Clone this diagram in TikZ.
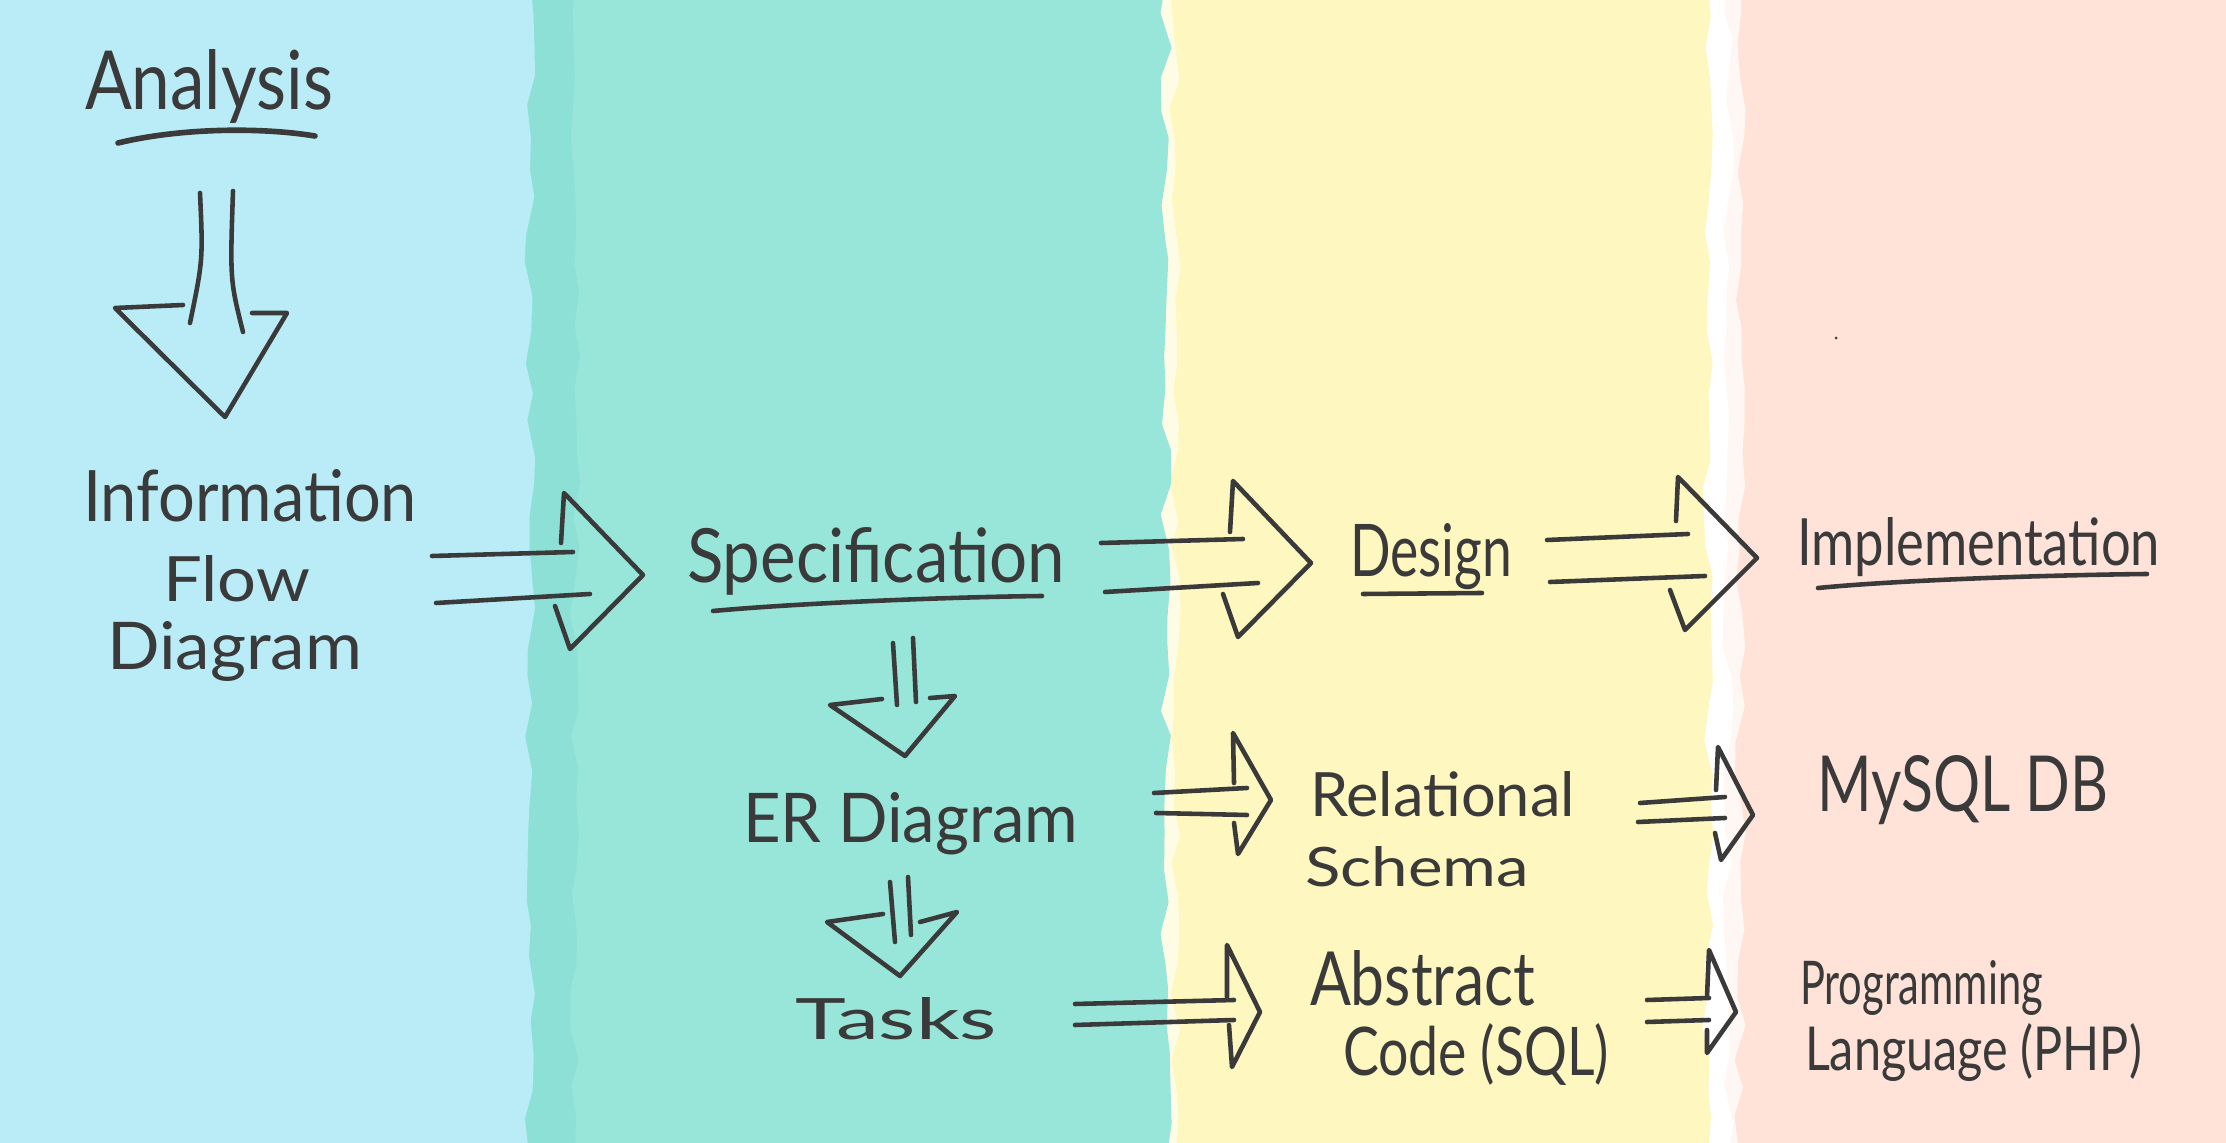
\documentclass[tikz,border=0pt]{standalone}
\usepackage{fontspec}
\setmainfont{Lato}
\usepackage{graphicx}
\usetikzlibrary{decorations.pathmorphing}
\definecolor{ink}{HTML}{3A3A3A}
\definecolor{bluec}{HTML}{BAECF8}
\definecolor{tealdark}{HTML}{8DE0D6}
\definecolor{tealc}{HTML}{98E5DA}
\definecolor{yellowc}{HTML}{FFF7C0}
\definecolor{pinkc}{HTML}{FFE3D8}
\newdimen\pxu \pxu=0.01cm
\newcommand\hw[3]{\resizebox{#1\pxu}{#2\pxu}{#3}}
\begin{document}
\begin{tikzpicture}[x=0.01cm,y=-0.01cm,
  hand/.style={draw=ink,line width=1.3pt,line cap=round,line join=round},
  txt/.style={anchor=base west,inner sep=0pt,outer sep=0pt,text=ink},
  edge/.style={decoration={random steps,segment length=9pt,amplitude=1.6pt}}]
\pgfmathsetseed{7}
% ---------- background bands ----------
\fill[pinkc] (0,0) rectangle (2226,1143);
\fill[white!70!pinkc] (0,-20) -- (1740,-20) decorate[edge]{-- (1740,1163)} -- (0,1163) -- cycle;
\fill[white] (0,-20) -- (1728,-20) decorate[edge]{-- (1728,1163)} -- (0,1163) -- cycle;
\fill[yellowc] (0,-20) -- (1708,-20) decorate[edge]{-- (1708,1163)} -- (0,1163) -- cycle;
\fill[white!60!yellowc] (0,-20) -- (1175,-20) decorate[edge]{-- (1175,1163)} -- (0,1163) -- cycle;
\fill[tealc] (0,-20) -- (1166,-20) decorate[edge]{-- (1166,1163)} -- (0,1163) -- cycle;
\fill[tealdark] (0,-20) -- (575,-20) decorate[edge]{-- (575,1163)} -- (0,1163) -- cycle;
\fill[bluec] (0,-20) -- (530,-20) decorate[edge]{-- (530,1163)} -- (0,1163) -- cycle;
\fill[ink] (1836,338) circle (1.5);
% ---------- texts ----------
\node[txt] (analysis) at (85,110) {\hw{248}{60}{Analysis}};
\node[txt] (info1) at (83,522) {\hw{334}{52}{Information}};
\node[txt] (info2) at (163,602) {\hw{147}{46}{Flow}};
\node[txt] (info3) at (107,670) {\hw{255}{48}{Diagram}};
\node[txt] (spec) at (687,583) {\hw{378}{55}{Specification}};
\node[txt] (design) at (1350,577) {\hw{162}{53}{Design}};
\node[txt] (impl) at (1797,566) {\hw{363}{48}{Implementation}};
\node[txt] (er) at (743,843) {\hw{335}{50}{ER Diagram}};
\node[txt] (tasks) at (795,1040) {\hw{202}{42}{Tasks}};
\node[txt] (rel1) at (1310,817) {\hw{265}{45}{Relational}};
\node[txt] (rel2) at (1305,887) {\hw{224}{40}{Schema}};
\node[txt] (abs1) at (1310,1005) {\hw{225}{55}{Abstract}};
\node[txt] (abs2) at (1343,1075) {\hw{266}{52}{Code (SQL)}};
\node[txt] (mysql) at (1817,811) {\hw{291}{56}{MySQL DB}};
\node[txt] (prog1) at (1800,1004) {\hw{243}{44}{Programming}};
\node[txt] (prog2) at (1805,1070) {\hw{337}{47}{Language (PHP)}};
% ---------- underlines ----------
\draw[hand,line width=1.6pt] (118,143) .. controls (180,128) and (260,127) .. (315,136);
\draw[hand] (713,611) .. controls (800,603) and (950,597) .. (1042,596);
\draw[hand] (1363,594) -- (1482,593);
\draw[hand] (1818,588) .. controls (1900,580) and (2050,575) .. (2147,574);
% ---------- arrows ----------
% Analysis -> Information Flow Diagram
\draw[hand] (200,193) .. controls (203,260) .. (190,323);
\draw[hand] (233,191) .. controls (230,280) .. (243,332);
\draw[hand] (183,305) -- (115,308) -- (225,417) -- (287,313) -- (252,313);
% Information Flow Diagram -> Specification
\draw[hand] (432,556) -- (573,552);
\draw[hand] (436,603) -- (590,594);
\draw[hand] (561,543) -- (564,493) -- (643,575) -- (570,649) -- (555,606);
% Specification -> Design
\draw[hand] (1101,543) -- (1243,539);
\draw[hand] (1105,592) -- (1258,583);
\draw[hand] (1230,532) -- (1233,481) -- (1311,563) -- (1238,637) -- (1223,594);
% Design -> Implementation
\draw[hand] (1547,540) -- (1688,534);
\draw[hand] (1550,582) -- (1705,576);
\draw[hand] (1676,521) -- (1678,477) -- (1757,558) -- (1685,630) -- (1670,590);
% Specification -> ER Diagram
\draw[hand] (893,643) -- (897,705);
\draw[hand] (913,638) -- (916,702);
\draw[hand] (882,699) -- (830,705) -- (905,756) -- (955,696) -- (930,698);
% ER Diagram -> Tasks
\draw[hand] (890,882) -- (895,942);
\draw[hand] (908,877) -- (911,935);
\draw[hand] (883,914) -- (827,922) -- (900,976) -- (957,912) -- (920,922);
% ER Diagram -> Relational Schema
\draw[hand] (1154,793) -- (1247,788);
\draw[hand] (1156,813) -- (1247,815);
\draw[hand] (1234,783) -- (1233,733) -- (1271,800) -- (1238,854) -- (1234,823);
% Relational Schema -> MySQL DB
\draw[hand] (1640,803) -- (1725,797);
\draw[hand] (1638,822) -- (1725,818);
\draw[hand] (1716,790) -- (1718,747) -- (1753,815) -- (1721,860) -- (1715,833);
% Tasks -> Abstract Code
\draw[hand] (1075,1004) -- (1234,1000);
\draw[hand] (1075,1025) -- (1234,1020);
\draw[hand] (1227,997) -- (1227,945) -- (1260,1012) -- (1232,1067) -- (1229,1025);
% Abstract Code -> Programming Language
\draw[hand] (1647,1000) -- (1709,998);
\draw[hand] (1647,1022) -- (1709,1020);
\draw[hand] (1707,997) -- (1709,950) -- (1736,1012) -- (1707,1053) -- (1707,1030);
\pgfresetboundingbox
\useasboundingbox (0,0) rectangle (2226,1143);
\end{tikzpicture}
\end{document}
